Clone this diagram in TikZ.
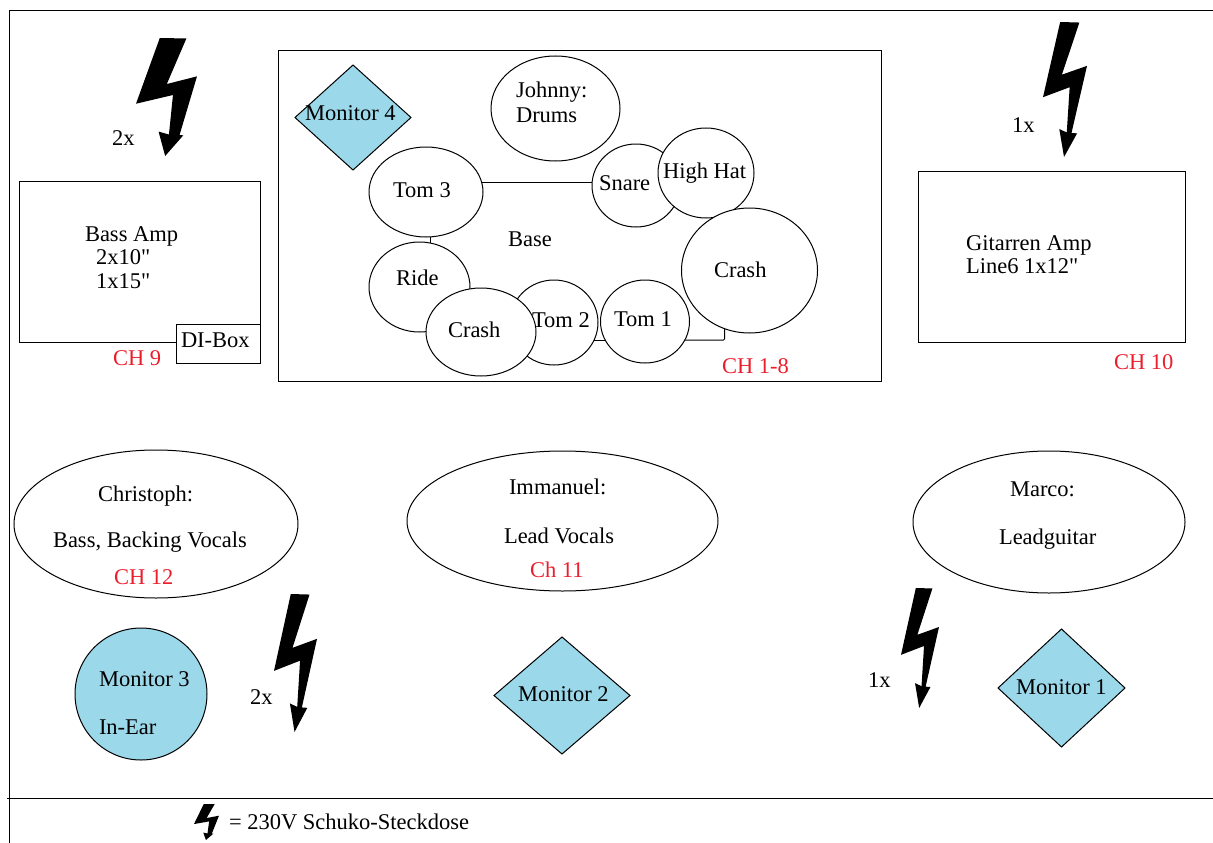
\documentclass[tikz,border=0pt]{standalone}
\usepackage{fontspec}
\setmainfont{Liberation Serif}
\newfontfamily\plainserif{Liberation Serif}
\usetikzlibrary{shapes.geometric,backgrounds}
\definecolor{monblue}{RGB}{155,216,234}
\definecolor{chred}{RGB}{235,30,45}
\newcommand{\boltshape}[6]{%
  \fill[black,shift={(#1pt,-#2pt)},x=#3pt,y=-#4pt]
    (0.39,0) -- (0.826,0.004) -- (#5,0.39) -- (1,0.325) -- (#6,0.822) -- (0.775,0.825)
    -- (0.478,1) -- (0.37,0.793) -- (0.54,0.818) -- (0.606,0.483) -- (0,0.557) -- cycle;}
\tikzset{
  every node/.style={inner sep=0pt,outer sep=0pt},
  box/.style={draw=black,line width=1pt,fill=white,rectangle},
  stagebox/.style={draw=black,line width=1pt,rectangle},
  drum/.style={draw=black,line width=1pt,fill=white,ellipse},
  person/.style={draw=black,line width=1pt,fill=white,ellipse},
  mon/.style={draw=black,line width=1pt,fill=monblue,diamond},
  moncirc/.style={draw=black,line width=1pt,fill=monblue,ellipse},
  lab/.style={anchor=base west,font=\plainserif\fontsize{22.5}{25}\selectfont},
  chlab/.style={lab,text=chred},
  wire/.style={draw=black,line width=1pt},
  rulefr/.style={draw=black,line width=1pt}
}
\begin{document}
\begin{tikzpicture}[x=1pt,y=-1pt]
\useasboundingbox (0,0) rectangle (1213,843);
% frame
\coordinate (ftl) at (9,11);
\coordinate (ftr) at (1213,11);
\coordinate (fbl) at (9,843);
\coordinate (fml) at (7,798);
\coordinate (fmr) at (1213,798);
\draw[rulefr] (ftr) -- (ftl) -- (fbl);
\draw[rulefr] (fml) -- (fmr);
% stage
\node[stagebox,minimum width=603pt,minimum height=330pt] (stage) at (579.5,216) {};
\node[mon,minimum width=116pt,minimum height=105pt] (mon4) at (353,117.5) {};
\node[drum,minimum width=129pt,minimum height=105pt] (johnny) at (555.5,108.5) {};
\node[drum,minimum width=114pt,minimum height=90pt] (tom3) at (426,192) {};
\node[drum,minimum width=101pt,minimum height=90pt] (ride) at (419.5,287) {};
\node[drum,minimum width=88pt,minimum height=85pt] (tom2) at (554,322.5) {};
\node[drum,minimum width=89pt,minimum height=83pt] (tom1) at (645,321.5) {};
\node[drum,minimum width=88pt,minimum height=83pt] (snare) at (636,185.5) {};
\node[drum,minimum width=96pt,minimum height=90pt] (hihat) at (706,173) {};
\node[drum,minimum width=136pt,minimum height=125pt] (crashr) at (749.5,270.5) {};
\node[drum,minimum width=110pt,minimum height=88pt] (crashl) at (481,332) {};
\begin{pgfonlayer}{background}
\draw[wire] (tom3.center |- 0,182) -- (snare.center |- 0,182);
\draw[wire] (tom3.center -| 430,0) -- (ride.center -| 430,0);
\draw[wire] (tom2.center |- 0,340) -- (tom1.center |- 0,340);
\draw[wire,rounded corners=1pt] (tom1.center |- 0,340) -- (724.5,340) -- (crashr.center -| 724.5,0);
\end{pgfonlayer}
\node[lab] (tmon4) at (305,121) {Monitor 4};
\node[lab] (tj1) at (516,98) {Johnny:};
\node[lab] (tj2) at (516,122) {Drums};
\node[lab] (ttom3) at (393,197) {Tom 3};
\node[lab] (tsnare) at (599,190) {Snare};
\node[lab] (thh) at (663,178) {High Hat};
\node[lab] (tbase) at (508,246) {Base};
\node[lab] (tcr) at (714,277) {Crash};
\node[lab] (tride) at (396,285) {Ride};
\node[lab] (tcl) at (448,337) {Crash};
\node[lab] (ttom2) at (532,327) {Tom 2};
\node[lab] (ttom1) at (614,326) {Tom 1};
\node[chlab] (tch18) at (722,373) {CH 1-8};
% bass amp
\node[box,minimum width=241pt,minimum height=161pt] (bass) at (139.5,261.5) {};
\node[box,minimum width=84pt,minimum height=39pt] (di) at (218,343.5) {};
\node[lab] (tb1) at (85,241) {Bass Amp};
\node[lab] (tb2) at (96,264) {2x10"};
\node[lab] (tb3) at (96,288) {1x15"};
\node[lab] (tdi) at (181,347) {DI-Box};
\node[chlab] (tch9) at (113,365) {CH 9};
% guitar amp
\node[box,minimum width=267pt,minimum height=171pt] (git) at (1051.5,256.5) {};
\node[lab] (tg1) at (966,250) {Gitarren Amp};
\node[lab] (tg2) at (966,273) {Line6 1x12"};
\node[chlab] (tch10) at (1114,369) {CH 10};
% people
\node[person,minimum width=284pt,minimum height=148pt] (chris) at (156,524) {};
\node[person,minimum width=311pt,minimum height=140pt] (imm) at (562.5,521) {};
\node[person,minimum width=272pt,minimum height=142pt] (marco) at (1049,522) {};
\node[lab] (tc1) at (98,501) {Christoph:};
\node[lab] (tc2) at (53,547) {Bass, Backing Vocals};
\node[chlab] (tch12) at (114,584) {CH 12};
\node[lab] (ti1) at (509,494) {Immanuel:};
\node[lab] (ti2) at (504,543) {Lead Vocals};
\node[chlab] (tch11) at (530,577) {Ch 11};
\node[lab] (tm1) at (1010,496) {Marco:};
\node[lab] (tm2) at (999,544) {Leadguitar};
% monitors
\node[moncirc,minimum width=132pt,minimum height=132pt] (mon3) at (141,694) {};
\node[mon,minimum width=136pt,minimum height=117pt] (mon2) at (562,695.5) {};
\node[mon,minimum width=127pt,minimum height=118pt] (mon1) at (1061.5,688) {};
\node[lab] (tm3a) at (99,686) {Monitor 3};
\node[lab] (tm3b) at (99,734) {In-Ear};
\node[lab] (tm2a) at (518,701) {Monitor 2};
\node[lab] (tm1a) at (1016,694) {Monitor 1};
% bolts
\boltshape{136}{38}{61}{118}{0.505}{0.714}
\boltshape{1043}{22}{44}{135}{0.43}{0.648}
\boltshape{274}{594}{43}{138}{0.43}{0.648}
\boltshape{901}{588}{38}{120}{0.43}{0.648}
\boltshape{194}{804}{25}{36}{0.505}{0.714}
\node[lab] (t2xa) at (112,145) {2x};
\node[lab] (t1xa) at (1012,132) {1x};
\node[lab] (t2xb) at (250,704) {2x};
\node[lab] (t1xb) at (868,687) {1x};
\node[lab] (tleg) at (229,829) {= 230V Schuko-Steckdose};
\end{tikzpicture}
\end{document}
